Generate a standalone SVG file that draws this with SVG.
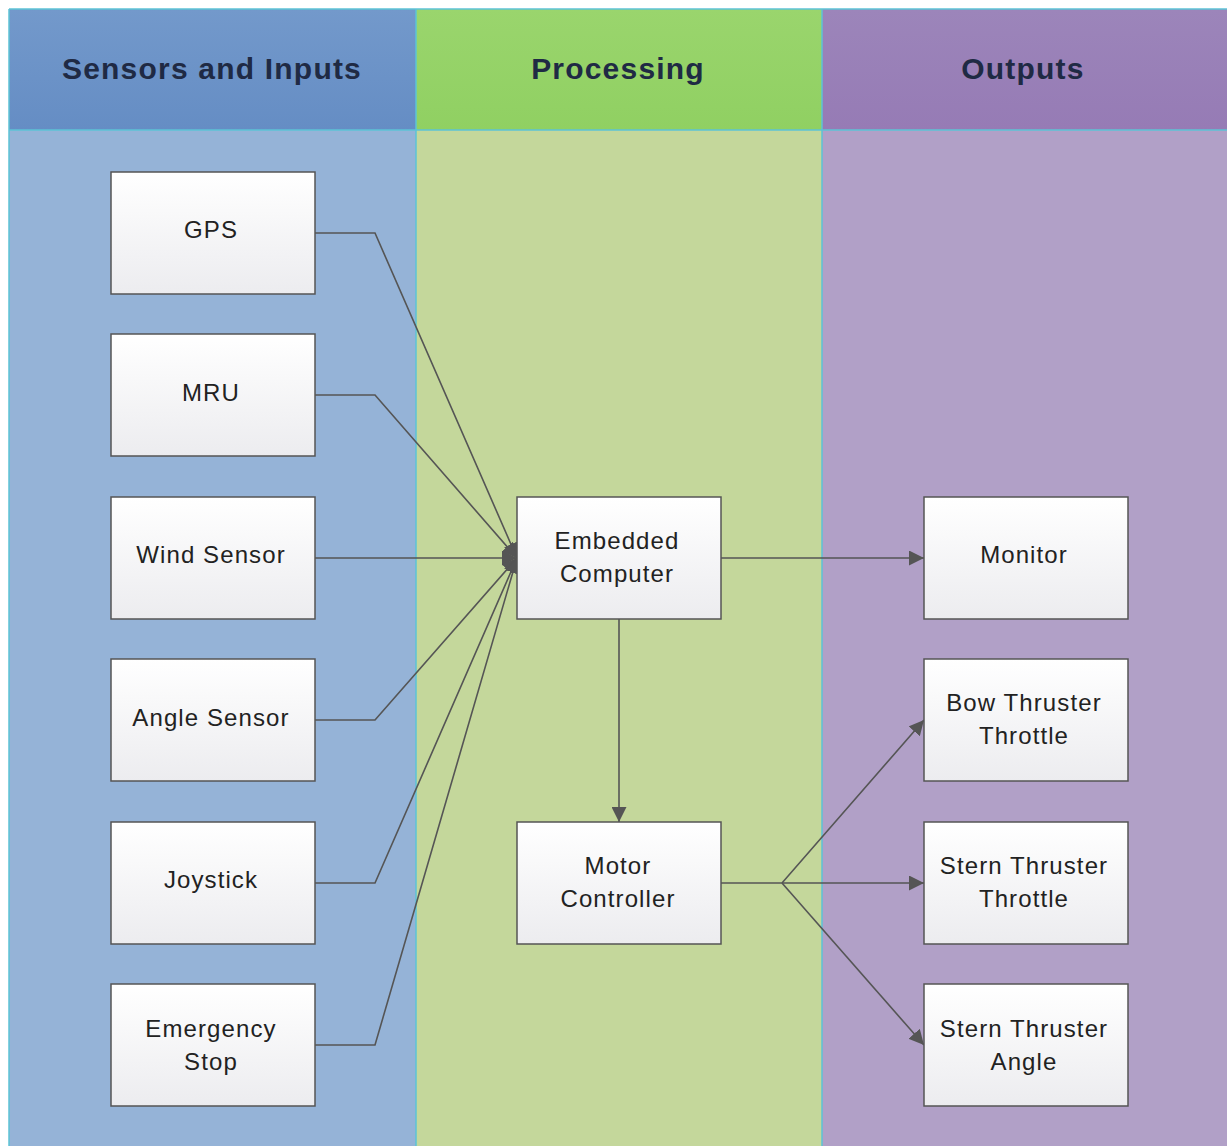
<svg xmlns="http://www.w3.org/2000/svg" width="1227" height="1146" viewBox="0 0 1227 1146">
<defs>
<linearGradient id="box" x1="0" y1="0" x2="0" y2="1"><stop offset="0" stop-color="#ffffff"/><stop offset="1" stop-color="#ececef"/></linearGradient>
<linearGradient id="hb" x1="0" y1="0" x2="0" y2="1"><stop offset="0" stop-color="#7399cb"/><stop offset="1" stop-color="#658dc4"/></linearGradient>
<linearGradient id="hg" x1="0" y1="0" x2="0" y2="1"><stop offset="0" stop-color="#9ad56d"/><stop offset="1" stop-color="#90d062"/></linearGradient>
<linearGradient id="hp" x1="0" y1="0" x2="0" y2="1"><stop offset="0" stop-color="#9c85ba"/><stop offset="1" stop-color="#967bb5"/></linearGradient>
<marker id="arr" viewBox="0 0 10 10" refX="10" refY="5" markerWidth="15" markerHeight="15" markerUnits="userSpaceOnUse" orient="auto"><path d="M0,0 L10,5 L0,10 z" fill="#555"/></marker>
</defs>
<style>
.node rect{fill:url(#box);stroke:#555;stroke-width:1.5}
.node text{font-family:"Liberation Sans",Arial,sans-serif;font-size:24px;letter-spacing:1.1px;fill:#222;text-anchor:middle}
.hdr{font-family:"Liberation Sans",Arial,sans-serif;font-size:30px;letter-spacing:1.2px;font-weight:bold;fill:#1f2a44;text-anchor:middle}
.conn path{fill:none;stroke:#555;stroke-width:1.6}
.sep{stroke:#5cc3d6;stroke-width:1.5}
</style>
<rect x="0" y="0" width="1227" height="1146" fill="#ffffff"/>
<g id="lanes">
<rect x="9" y="9" width="407" height="1137" fill="#95b3d7"/>
<rect x="416" y="9" width="406" height="1137" fill="#c4d79b"/>
<rect x="822" y="9" width="405" height="1137" fill="#b1a0c7"/>
<rect x="9" y="9" width="407" height="121" fill="url(#hb)"/>
<rect x="416" y="9" width="406" height="121" fill="url(#hg)"/>
<rect x="822" y="9" width="405" height="121" fill="url(#hp)"/>
<line class="sep" x1="9" y1="9" x2="1227" y2="9"/>
<line class="sep" x1="9" y1="130" x2="1227" y2="130"/>
<line class="sep" x1="9" y1="9" x2="9" y2="1146"/>
<line class="sep" x1="416" y1="9" x2="416" y2="1146"/>
<line class="sep" x1="822" y1="9" x2="822" y2="1146"/>
<text class="hdr" x="212" y="79">Sensors and Inputs</text>
<text class="hdr" x="618" y="79">Processing</text>
<text class="hdr" x="1023" y="79">Outputs</text>
</g>
<g id="connectors" class="conn">
<path d="M315,233 H375 L517,558" marker-end="url(#arr)"/>
<path d="M315,395 H375 L517,558" marker-end="url(#arr)"/>
<path d="M315,558 H517" marker-end="url(#arr)"/>
<path d="M315,720 H375 L517,558" marker-end="url(#arr)"/>
<path d="M315,883 H375 L517,558" marker-end="url(#arr)"/>
<path d="M315,1045 H375 L517,558" marker-end="url(#arr)"/>
<path d="M721,558 H924" marker-end="url(#arr)"/>
<path d="M619,619 V822" marker-end="url(#arr)"/>
<path d="M721,883 H782 L924,720" marker-end="url(#arr)"/>
<path d="M782,883 H924" marker-end="url(#arr)"/>
<path d="M782,883 L924,1045" marker-end="url(#arr)"/>
</g>
<g id="gps" class="node"><rect x="111" y="172" width="204" height="122"/><text x="211" y="238">GPS</text></g>
<g id="mru" class="node"><rect x="111" y="334" width="204" height="122"/><text x="211" y="401">MRU</text></g>
<g id="wind" class="node"><rect x="111" y="497" width="204" height="122"/><text x="211" y="563">Wind Sensor</text></g>
<g id="angle" class="node"><rect x="111" y="659" width="204" height="122"/><text x="211" y="726">Angle Sensor</text></g>
<g id="joystick" class="node"><rect x="111" y="822" width="204" height="122"/><text x="211" y="888">Joystick</text></g>
<g id="estop" class="node"><rect x="111" y="984" width="204" height="122"/><text x="211" y="1037">Emergency</text><text x="211" y="1070">Stop</text></g>
<g id="embedded" class="node"><rect x="517" y="497" width="204" height="122"/><text x="617" y="549">Embedded</text><text x="617" y="582">Computer</text></g>
<g id="motor" class="node"><rect x="517" y="822" width="204" height="122"/><text x="618" y="874">Motor</text><text x="618" y="907">Controller</text></g>
<g id="monitor" class="node"><rect x="924" y="497" width="204" height="122"/><text x="1024" y="563">Monitor</text></g>
<g id="bow" class="node"><rect x="924" y="659" width="204" height="122"/><text x="1024" y="711">Bow Thruster</text><text x="1024" y="744">Throttle</text></g>
<g id="sternt" class="node"><rect x="924" y="822" width="204" height="122"/><text x="1024" y="874">Stern Thruster</text><text x="1024" y="907">Throttle</text></g>
<g id="sterna" class="node"><rect x="924" y="984" width="204" height="122"/><text x="1024" y="1037">Stern Thruster</text><text x="1024" y="1070">Angle</text></g>
</svg>
